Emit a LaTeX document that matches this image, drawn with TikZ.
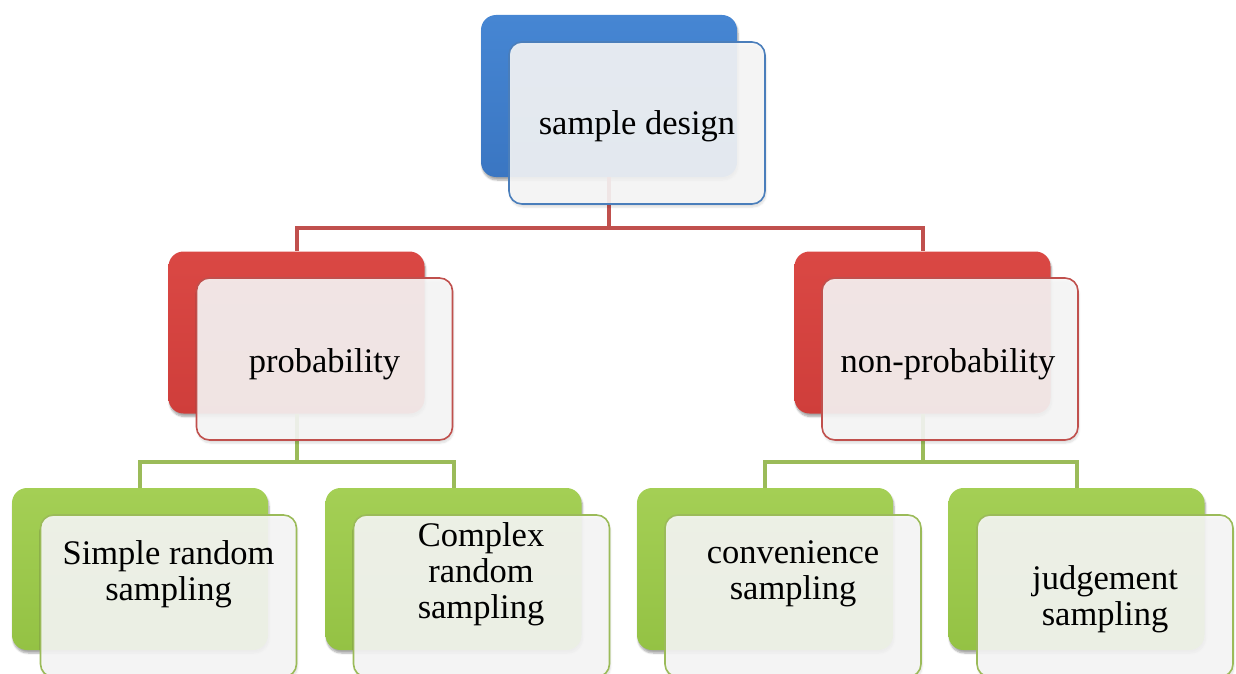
\documentclass[tikz,border=0pt]{standalone}
\usepackage{fontspec}
\setmainfont{Liberation Serif}
\usetikzlibrary{shadows.blur}

\definecolor{blueTop}{HTML}{4686D3}
\definecolor{blueBot}{HTML}{3A76C2}
\definecolor{blueLine}{HTML}{4A7EBB}
\definecolor{redTop}{HTML}{DA4844}
\definecolor{redBot}{HTML}{CF3E3B}
\definecolor{redLine}{HTML}{C0504D}
\definecolor{greenTop}{HTML}{A4CF55}
\definecolor{greenBot}{HTML}{94C244}
\definecolor{greenLine}{HTML}{9BBB59}
\definecolor{cardFill}{HTML}{F7F7F7}

\tikzset{
  backbox/.style={rectangle, rounded corners=15pt, minimum width=256pt,
    minimum height=162pt, inner sep=0pt, draw=none,
    blur shadow={shadow xshift=1pt, shadow yshift=-3pt, shadow blur steps=6, shadow opacity=35}},
  bluebox/.style={backbox, top color=blueTop, bottom color=blueBot},
  redbox/.style={backbox, top color=redTop, bottom color=redBot},
  greenbox/.style={backbox, top color=greenTop, bottom color=greenBot},
  card/.style={rectangle, rounded corners=13pt, minimum width=256pt,
    minimum height=162pt, inner sep=0pt, line width=1.6pt,
    fill=cardFill, fill opacity=0.9, text opacity=1,
    blur shadow={shadow xshift=1pt, shadow yshift=-3pt, shadow blur steps=6, shadow opacity=15}},
  boxtext/.style={align=center, font=\fontsize{34.5}{36}\selectfont, text=black, inner sep=0pt},
  redlink/.style={draw=redLine, line width=4pt},
  greenlink/.style={draw=greenLine, line width=4pt},
}

\begin{document}
\begin{tikzpicture}[x=1pt, y=-1pt]
\useasboundingbox (0,0) rectangle (1236,674);
\clip (0,0) rectangle (1236,674);

% back boxes (coloured layer)
\node[bluebox]  (sd)   at (609,96) {};
\node[redbox]   (prob) at (296.5,332.5) {};
\node[redbox]   (nonp) at (922.5,332.5) {};
\node[greenbox] (srs)  at (140,569) {};
\node[greenbox] (crs)  at (453.5,569) {};
\node[greenbox] (conv) at (765,569) {};
\node[greenbox] (judg) at (1076.5,569) {};

% connectors
\coordinate (redbus) at (609,228);
\coordinate (leftbus) at (296.5,462);
\coordinate (rightbus) at (922.5,462);
\draw[redlink] (sd.south) -- (redbus) -| (prob.north);
\draw[redlink] (redbus) -| (nonp.north);
\draw[greenlink] (prob.south) -- (leftbus) -| (srs.north);
\draw[greenlink] (leftbus) -| (crs.north);
\draw[greenlink] (nonp.south) -- (rightbus) -| (conv.north);
\draw[greenlink] (rightbus) -| (judg.north);

% front cards
\node[card, draw=blueLine]  (sdc)   at (637,123) {};
\node[card, draw=redLine]   (probc) at (324.5,359) {};
\node[card, draw=redLine]   (nonpc) at (950,359) {};
\node[card, draw=greenLine] (srsc)  at (168.5,596) {};
\node[card, draw=greenLine] (crsc)  at (481.5,596) {};
\node[card, draw=greenLine] (convc) at (793,596) {};
\node[card, draw=greenLine] (judgc) at (1105,596) {};

% labels
\node[boxtext] (sdt)   at (637,126) {sample design};
\node[boxtext] (probt) at (324.5,364) {probability};
\node[boxtext] (nonpt) at (948,364) {non-probability};
\node[boxtext] (srst)  at (168.5,574) {Simple random\\sampling};
\node[boxtext] (crst)  at (481,574) {Complex\\random\\sampling};
\node[boxtext] (convt) at (793,574) {convenience\\sampling};
\node[boxtext] (judgt) at (1105,599) {judgement\\sampling};
\end{tikzpicture}
\end{document}
